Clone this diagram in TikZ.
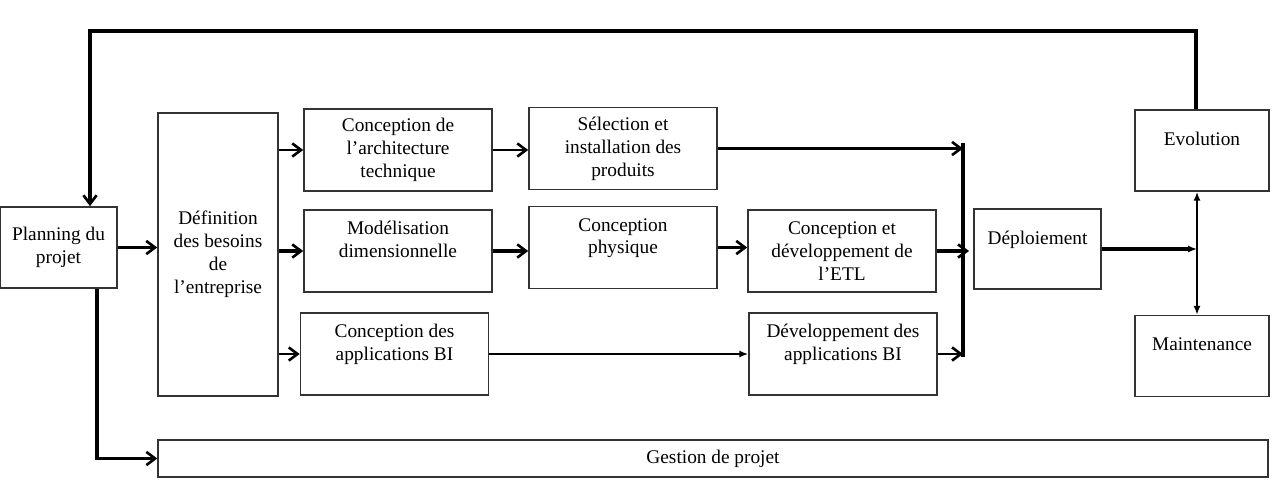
\documentclass[tikz,border=0pt]{standalone}
\usepackage{fontspec}
\setmainfont{Liberation Serif}
\usetikzlibrary{arrows.meta}

\begin{document}
\begin{tikzpicture}[
    x=0.02cm, y=-0.02cm,
    every node/.style={draw=black!80, line width=0.9pt, align=center, inner sep=1pt,
      font=\fontsize{11}{13}\selectfont},
    stage/.style={minimum width=3.76cm, minimum height=1.64cm},
    side/.style={minimum width=2.68cm, minimum height=1.62cm},
    thinline/.style={line width=1pt, -{Straight Barb[length=5pt,width=7.5pt,line width=1.5pt]}},
    heavy/.style={line width=2.1pt, -{Straight Barb[length=5pt,width=7.5pt,line width=1.5pt]}},
    tip/.style={-{Latex[length=5pt,width=4pt]}},
  ]
    \useasboundingbox (0,0) rectangle (1278,484);

    \node[minimum width=2.34cm, minimum height=1.62cm] (plan) at (58.5,247.5) {Planning du\\projet};
    \node[minimum width=2.4cm, minimum height=5.66cm] (besoins) at (218,254.5) {Définition\\des besoins\\de\\l’entreprise};
    \node[stage] (archi) at (398,150) {Conception de\\l’architecture\\technique};
    \node[stage] (selection) at (623,148.5) {Sélection et\\installation des\\produits};
    \node[stage] (modelis) at (398,251) {Modélisation\\dimensionnelle\\\mbox{}};
    \node[stage] (physique) at (623,247.5) {Conception\\physique\\\mbox{}};
    \node[stage] (etl) at (842,251) {Conception et\\développement de\\l’ETL};
    \node[stage] (concapp) at (394.5,354) {Conception des\\applications BI\\\mbox{}};
    \node[stage] (devapp) at (843,354) {Développement des\\applications BI\\\mbox{}};
    \node[minimum width=2.54cm, minimum height=1.6cm] (deploi) at (1037.5,249) {Déploiement\\\mbox{}};
    \node[side] (evol) at (1202,150.5) {Evolution\\\mbox{}};
    \node[side] (maint) at (1202,356) {Maintenance\\\mbox{}};
    \node[minimum width=22.2cm, minimum height=0.74cm] (gestion) at (713,458.5) {Gestion de projet};

    \coordinate (looptop) at (90,31);
    \coordinate (bustop) at (963,143);
    \coordinate (busbot) at (963,357);
    \coordinate (fork) at (1197,249);

    \draw[heavy] ([xshift=-0.12cm]evol.north) |- (looptop) -- (looptop |- plan.north);
    \draw[heavy] (plan.east) -- (besoins.west |- plan.east);
    \draw[heavy] ([xshift=0.77cm]plan.south) |- (gestion.west);
    \draw[thinline] (besoins.east |- archi.west) -- (archi.west);
    \draw[heavy] (besoins.east |- modelis.west) -- (modelis.west);
    \draw[thinline] (besoins.east |- concapp.west) -- (concapp.west);
    \draw[thinline] (archi.east) -- (archi.east -| selection.west);
    \draw[heavy] (modelis.east) -- (modelis.east -| physique.west);
    \draw[heavy] (physique.east) -- (physique.east -| etl.west);
    \draw[line width=1pt, tip] (concapp.east) -- (concapp.east -| devapp.west);
    \draw[line width=2.1pt] (bustop) -- (busbot);
    \draw[heavy] (selection.east) -- (selection.east -| bustop);
    \draw[heavy] (etl.east) -- ([xshift=0.12cm]etl.east -| bustop);
    \draw[thinline] (devapp.east) -- (devapp.east -| bustop);
    \draw[line width=2.1pt, tip] (deploi.east) -- (fork);
    \draw[line width=1pt, {Latex[length=5pt,width=4pt]}-{Latex[length=5pt,width=4pt]}] (fork |- evol.south) -- (fork |- maint.north);
  \end{tikzpicture}
\end{document}
